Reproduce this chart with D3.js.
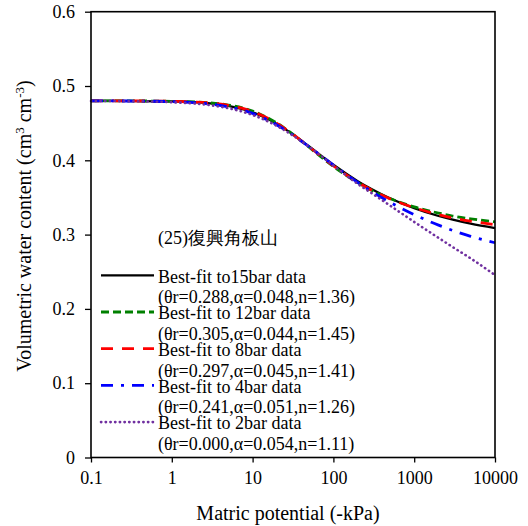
<!DOCTYPE html>
<html><head><meta charset="utf-8">
<script src="https://cdn.jsdelivr.net/npm/d3@7"></script>
<style>body{margin:0;background:#fff}svg text{font-family:"Liberation Serif","Times New Roman",Times,"DejaVu Serif",serif;fill:#000}</style>
</head><body>
<svg id="c" width="528" height="526"></svg>
<script>
// Matric potential (-kPa) at which curve values were read
const potentials = [0.1,0.3,1,3,5,10,20,30,50,100,200,300,500,1000,2000,3000,5000,10000];
// Volumetric water content
const fit15bar = [0.4800,0.4798,0.4792,0.4765,0.4733,0.4647,0.4490,0.4365,0.4186,0.3940,0.3720,0.3610,0.3489,0.3356,0.3251,0.3201,0.3147,0.3088];
const fit12bar = [0.4800,0.4799,0.4794,0.4772,0.4744,0.4662,0.4501,0.4368,0.4176,0.3918,0.3699,0.3594,0.3486,0.3372,0.3290,0.3250,0.3212,0.3172];
const fit8bar  = [0.4800,0.4799,0.4793,0.4770,0.4740,0.4657,0.4497,0.4368,0.4181,0.3926,0.3704,0.3597,0.3483,0.3362,0.3270,0.3225,0.3180,0.3135];
const fit4bar  = [0.4799,0.4798,0.4789,0.4756,0.4720,0.4631,0.4476,0.4356,0.4183,0.3936,0.3703,0.3578,0.3436,0.3269,0.3128,0.3056,0.2976,0.2890];
const fit2bar  = [0.4799,0.4795,0.4782,0.4741,0.4701,0.4610,0.4462,0.4349,0.4183,0.3931,0.3682,0.3555,0.3392,0.3171,0.2956,0.2832,0.2680,0.2455];

const seriesNames  = ["Best-fit to15bar data","Best-fit to 12bar data","Best-fit to 8bar data","Best-fit to 4bar data","Best-fit to 2bar data"];
const seriesParams = ["(θr=0.288,α=0.048,n=1.36)","(θr=0.305,α=0.044,n=1.45)","(θr=0.297,α=0.045,n=1.41)","(θr=0.241,α=0.051,n=1.26)","(θr=0.000,α=0.054,n=1.11)"];
const seriesColors = ["#000000","#008000","#ff0000","#0000ff","#7030a0"];
const siteTitle = "(25)復興角板山";
const xTicks = [0.1,1,10,100,1000,10000];
const yTicks = [0,0.1,0.2,0.3,0.4,0.5,0.6];

const seriesValues = [fit15bar, fit12bar, fit8bar, fit4bar, fit2bar];
const styles = [
  {w:2.2, dash:null, cap:"butt"},
  {w:2.8, dash:"8,4", cap:"butt"},
  {w:2.8, dash:"12,9", cap:"butt"},
  {w:2.8, dash:"12,8,3,8", cap:"butt"},
  {w:2.6, dash:"0.3,4.4", cap:"round"}
];

const svg = d3.select("#c");
const L = 91, R = 495, T = 11.7, B = 457.5;
const x = d3.scaleLog().domain([0.1,10000]).range([L,R]);
const y = d3.scaleLinear().domain([0,0.6]).range([B,T]);

// axes
const yAxis = d3.axisLeft(y).tickValues(yTicks).tickSize(6).tickSizeOuter(0).tickPadding(10)
  .tickFormat(d => d === 0 ? "0" : d3.format(".1f")(d));
const gy = svg.append("g").attr("transform",`translate(${L},0)`).call(yAxis);
const xAxis = d3.axisBottom(x).tickValues(xTicks).tickSize(5).tickSizeOuter(0).tickPadding(9)
  .tickFormat(d => String(d));
const gx = svg.append("g").attr("transform",`translate(0,${B})`).call(xAxis);
[gx, gy].forEach(g => {
  g.attr("font-family", null);
  g.select(".domain").remove();
  g.selectAll("line").attr("stroke","#000").attr("stroke-width",1.3);
  g.selectAll("text").attr("font-size",18).attr("fill","#000");
});

// curves
const line = d3.line().x(d => x(d[0])).y(d => y(d[1])).curve(d3.curveMonotoneX);
seriesValues.forEach((vals,i) => {
  const pts = potentials.map((p,j) => [p, vals[j]]);
  svg.append("path").datum(pts).attr("d", line)
    .attr("fill","none").attr("stroke", seriesColors[i])
    .attr("stroke-width", styles[i].w).attr("stroke-dasharray", styles[i].dash)
    .attr("stroke-linecap", styles[i].cap);
});

// frame
svg.append("rect").attr("x",L).attr("y",T).attr("width",R-L).attr("height",B-T)
  .attr("fill","none").attr("stroke","#000").attr("stroke-width",1.6);

// site title
svg.append("text").attr("x",158).attr("y",238).attr("dy","0.35em").attr("font-size",18)
  .text(siteTitle);

// legend
const rowY = [275.3, 312, 348.7, 385.4, 422.1];
seriesNames.forEach((name,i) => {
  const g = svg.append("g");
  g.append("line").attr("x1",101).attr("x2",154).attr("y1",rowY[i]).attr("y2",rowY[i])
    .attr("stroke",seriesColors[i]).attr("stroke-width",styles[i].w)
    .attr("stroke-dasharray",styles[i].dash).attr("stroke-linecap",styles[i].cap);
  g.append("text").attr("x",158).attr("y",rowY[i]+1).attr("dy","0.35em").attr("font-size",18).text(name);
  g.append("text").attr("x",158).attr("y",rowY[i]+21.5).attr("dy","0.35em").attr("font-size",18).text(seriesParams[i]);
});

// axis titles
svg.append("text").attr("x",288).attr("y",513).attr("dy","0.35em").attr("text-anchor","middle")
  .attr("font-size",20).text("Matric potential (-kPa)");
const yl = svg.append("text").attr("transform","translate(24,226) rotate(-90)")
  .attr("text-anchor","middle").attr("dy","0.35em").attr("font-size",20);
yl.append("tspan").text("Volumetric water content  (cm");
yl.append("tspan").attr("baseline-shift","super").attr("font-size",13).text("3");
yl.append("tspan").text(" cm");
yl.append("tspan").attr("baseline-shift","super").attr("font-size",13).text("-3");
yl.append("tspan").text(")");
</script>
</body></html>
